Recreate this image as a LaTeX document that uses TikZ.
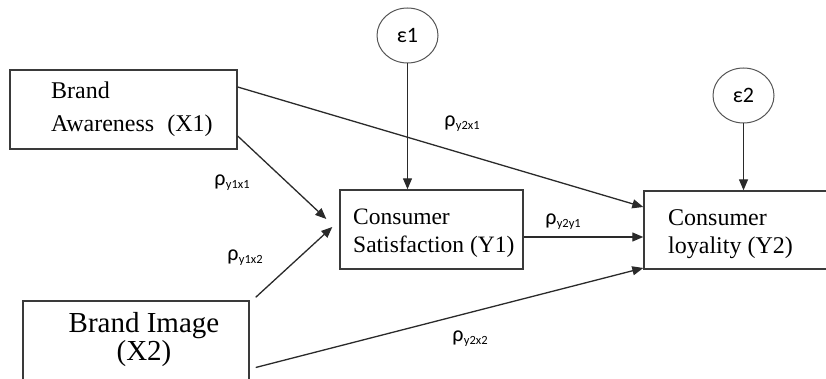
\documentclass[tikz,border=0pt]{standalone}
\usepackage{fontspec}
\setmainfont{Liberation Serif}
\newfontfamily\lblfont{Carlito}
\usetikzlibrary{arrows.meta,shapes.geometric}
\definecolor{boxgray}{HTML}{3A3A3A}
\definecolor{linegray}{HTML}{2A2A2A}
\definecolor{circgray}{HTML}{555555}
\tikzset{
  box/.style={draw=boxgray, line width=1.4pt, rectangle, inner sep=0pt},
  boxtext/.style={inner sep=0pt, align=left, font=\fontsize{24}{28}\selectfont},
  err/.style={draw=circgray, line width=1pt, ellipse, minimum width=61pt, minimum height=55pt, inner sep=0pt, font=\lblfont\fontsize{22}{22}\selectfont},
  link/.style={draw=linegray, line width=1.3pt, -{Triangle[length=11pt,width=9pt]}},
  coef/.style={inner sep=0pt, font=\lblfont\fontsize{22}{22}\selectfont}
}
\newcommand{\coefsub}[1]{ρ\kern0.3pt\raisebox{-3pt}{\fontsize{12.5}{12.5}\selectfont #1}}
\begin{document}
\begin{tikzpicture}[x=1pt,y=-1pt]
\useasboundingbox (0,0) rectangle (826,379);
\clip (0,0) rectangle (826,379);
% boxes
\node[box, minimum width=227pt, minimum height=79pt] (aw) at (123.5,109.5) {};
\node[box, minimum width=226pt, minimum height=92pt] (bi) at (136,347) {};
\node[box, minimum width=183pt, minimum height=79pt] (sa) at (431.5,229.5) {};
\node[box, minimum width=192pt, minimum height=78pt] (lo) at (740,230) {};
% box texts
\node[boxtext, anchor=base west, font=\fontsize{24}{33}\selectfont] (awt) at (51,132) {Brand\\Awareness\hspace{13pt}(X1)};
\node[boxtext, anchor=base west, font=\fontsize{23.5}{28}\selectfont] (sat) at (353,252) {Consumer\\Satisfaction (Y1)};
\node[boxtext, anchor=base west] (lot) at (668,253) {Consumer\\loyality (Y2)};
\node[boxtext, align=center, anchor=base, font=\fontsize{29}{28}\selectfont] (bit) at (144,360) {Brand Image\\(X2)};
% error terms
\node[err] (e1) at (407.5,35.5) {ε1};
\node[err] (e2) at (743.5,95.5) {ε2};
% connectors
\draw[link] ([yshift=22.5pt]aw.east) -- ([yshift=23pt]lo.west);
\draw[link] ([yshift=-26.5pt]aw.east) -- ([xshift=-13pt,yshift=10.5pt]sa.west);
\draw[link] ([xshift=6pt,yshift=3pt]bi.north east) -- ([xshift=-7pt,yshift=2.5pt]sa.west);
\draw[link] ([yshift=-7.5pt]sa.east) -- ([yshift=-7pt]lo.west);
\draw[link] ([xshift=6pt,yshift=-20.5pt]bi.east) -- ([yshift=-38pt]lo.west);
\draw[link] (e1.south) -- (e1.south |- sa.north);
\draw[link] (e2.south) -- (e2.south |- lo.north);
% coefficients
\node[coef] (c1) at (462,124) {\coefsub{y2x1}};
\node[coef] (c2) at (232,183) {\coefsub{y1x1}};
\node[coef] (c3) at (245,258) {\coefsub{y1x2}};
\node[coef] (c4) at (563,222) {\coefsub{y2y1}};
\node[coef] (c5) at (470,339) {\coefsub{y2x2}};
\end{tikzpicture}
\end{document}
